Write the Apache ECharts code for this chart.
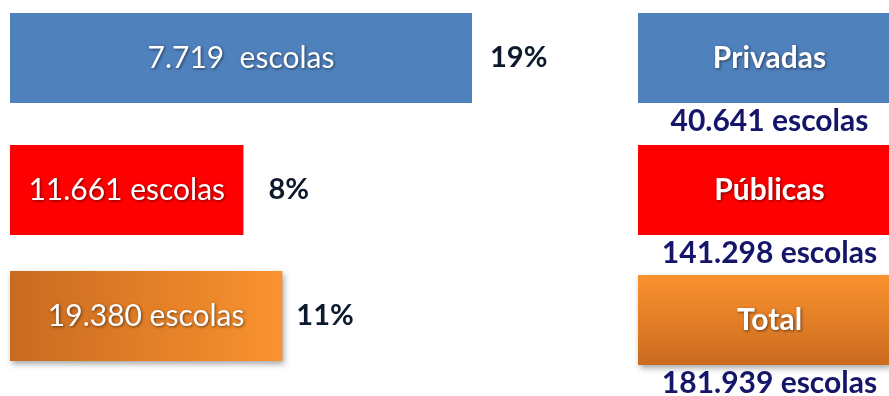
<!DOCTYPE html>
<html>
<head>
<meta charset="utf-8">
<script src="https://cdn.jsdelivr.net/npm/echarts@6/dist/echarts.min.js"></script>
<style>html,body{margin:0;padding:0;background:#fff;overflow:hidden;}#c{width:889px;height:396px;}</style>
</head>
<body>
<div id="c"></div>
<script>
// ---- data ----
var categories = ['Privadas', 'Públicas', 'Total'];
var schoolsInGroup = ['7.719  escolas', '11.661 escolas', '19.380 escolas'];
var percentLabels = ['19%', '8%', '11%'];
var barLength = [19, 9.6, 11.2];           // bar lengths as drawn (on the 19% scale)
var totalSchools = ['40.641 escolas', '141.298 escolas', '181.939 escolas'];
var boxValue = [1, 1, 1];

// ---- layout / styles ----
var FONT = 'Lato';
var navy = '#15156a';
var leftTops = [13, 145, 271];
var rightTops = [13, 145, 275];
var rowH = 90;
var pctGap = [18, 25, 14];
var leftFills = [
  '#4F81BD',
  '#FF0000',
  new echarts.graphic.LinearGradient(0, 0, 1, 0, [{offset: 0, color: '#C86A20'}, {offset: 1, color: '#FA922E'}])
];
var rightFills = [
  '#4F81BD',
  '#FF0000',
  new echarts.graphic.LinearGradient(0, 0, 0, 1, [{offset: 0, color: '#FA922E'}, {offset: 1, color: '#CB6B20'}])
];
var shadows = [false, false, true];
var textSh = {textShadowColor: 'rgba(0,0,0,0.55)', textShadowBlur: 3, textShadowOffsetX: 1, textShadowOffsetY: 1};

function itemStyleFor(fill, sh) {
  var s = {color: fill, borderRadius: 0};
  if (sh) { s.shadowColor = 'rgba(0,0,0,0.35)'; s.shadowBlur = 6; s.shadowOffsetX = 2; s.shadowOffsetY = 3; }
  return s;
}

var grids = [], xAxes = [], yAxes = [], series = [];
categories.forEach(function (cat, i) {
  // left grid (bar with percentage)
  var gL = grids.length;
  grids.push({left: 10, width: 462, top: leftTops[i], height: rowH});
  xAxes.push({gridIndex: gL, type: 'value', min: 0, max: 19, show: false});
  yAxes.push({gridIndex: gL, type: 'category', data: [cat], show: false});
  series.push({
    type: 'bar', xAxisIndex: gL, yAxisIndex: gL, barWidth: '100%', z: 2,
    data: [{value: barLength[i], itemStyle: itemStyleFor(leftFills[i], shadows[i])}],
    label: Object.assign({show: true, position: 'inside', formatter: schoolsInGroup[i],
      color: '#fff', fontFamily: FONT, fontSize: 30}, textSh)
  });
  series.push({
    type: 'bar', xAxisIndex: gL, yAxisIndex: gL, barWidth: '100%', barGap: '-100%', z: 1,
    itemStyle: {color: 'rgba(0,0,0,0)'},
    data: [barLength[i]],
    label: {show: true, position: 'right', distance: pctGap[i], formatter: percentLabels[i],
      color: '#0d1a2e', fontFamily: FONT, fontWeight: 'bold', fontSize: 29}
  });
  // right grid (box with name and total); box runs past the right edge
  var gR = grids.length;
  grids.push({left: 638, right: 0, top: rightTops[i], height: rowH});
  xAxes.push({gridIndex: gR, type: 'value', min: 0, max: 1, show: false});
  yAxes.push({gridIndex: gR, type: 'category', data: [cat], show: false});
  series.push({
    type: 'bar', xAxisIndex: gR, yAxisIndex: gR, barWidth: '100%', z: 2,
    data: [{value: boxValue[i], itemStyle: itemStyleFor(rightFills[i], shadows[i])}],
    label: Object.assign({show: true, position: 'inside', offset: [6, 0], formatter: cat,
      color: '#fff', fontFamily: FONT, fontWeight: 'bold', fontSize: 30}, textSh)
  });
  series.push({
    type: 'bar', xAxisIndex: gR, yAxisIndex: gR, barWidth: '100%', barGap: '-100%', z: 1,
    itemStyle: {color: 'rgba(0,0,0,0)'},
    data: [boxValue[i]],
    label: {show: true, position: 'bottom', distance: 3, offset: [6, 0], formatter: totalSchools[i],
      color: navy, fontFamily: FONT, fontWeight: 'bold', fontSize: 30}
  });
});

var chart = echarts.init(document.getElementById('c'), null, {renderer: 'canvas'});
chart.setOption({animation: false, grid: grids, xAxis: xAxes, yAxis: yAxes, series: series});
</script>
</body>
</html>
